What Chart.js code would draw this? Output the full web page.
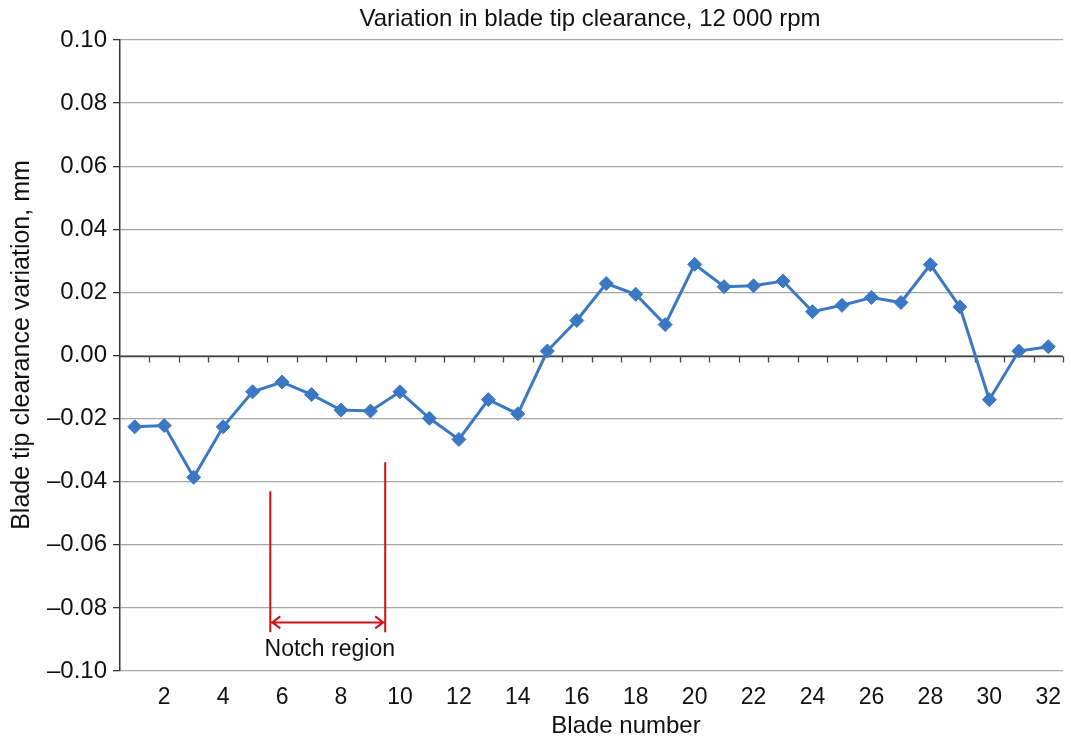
<!DOCTYPE html>
<html>
<head>
<meta charset="utf-8">
<script src="https://cdn.jsdelivr.net/npm/chart.js@4/dist/chart.umd.min.js"></script>
<style>
  html, body { margin: 0; padding: 0; background: #fff; overflow: hidden; }
  #graficoFolga { display: block; }
</style>
</head>
<body>
<canvas id="graficoFolga" width="1071" height="738"></canvas>
<script>
const blades = ['1','2','3','4','5','6','7','8','9','10','11','12','13','14','15','16',
                '17','18','19','20','21','22','23','24','25','26','27','28','29','30','31','32'];
const clearanceVar = [-0.0226, -0.0222, -0.0386, -0.0226, -0.0115, -0.0084, -0.0124, -0.0173,
                      -0.0176, -0.0115, -0.0199, -0.0266, -0.0140, -0.0185, 0.0014, 0.0111,
                      0.0228, 0.0194, 0.0098, 0.0289, 0.0218, 0.0221, 0.0236, 0.0139,
                      0.0159, 0.0184, 0.0168, 0.0288, 0.0154, -0.0140, 0.0014, 0.0028];
const yTicks = [-0.10, -0.08, -0.06, -0.04, -0.02, 0.00, 0.02, 0.04, 0.06, 0.08, 0.10];
// notch region marker, in blade index / mm units
const notchLeft = [4.6, -0.043, -0.0877];
const notchRight = [8.5, -0.0338, -0.0877];
const notchArrowY = -0.0846;

const fonte = "'Liberation Sans', Arial, sans-serif";

const extras = {
    id: 'extras',
    beforeDatasetsDraw(chart) {
        const ctx = chart.ctx;
        const x = chart.scales.x, y = chart.scales.y;
        const y0 = Math.round(y.getPixelForValue(0)) + 0.5;
        ctx.save();
        ctx.strokeStyle = '#444';
        ctx.lineWidth = 1.3;
        ctx.beginPath();
        ctx.moveTo(chart.chartArea.left, y0);
        ctx.lineTo(chart.chartArea.right, y0);
        for (let i = 1; i <= blades.length; i++) {
            const px = Math.round(x.getPixelForValue(i - 0.5)) + 0.5;
            ctx.moveTo(px, y0);
            ctx.lineTo(px, y0 + 6);
        }
        ctx.stroke();
        ctx.restore();
    },
    afterDraw(chart) {
        const ctx = chart.ctx;
        const x = chart.scales.x, y = chart.scales.y;
        ctx.save();
        // notch region
        ctx.strokeStyle = '#d0101a';
        ctx.lineWidth = 2;
        const xl = x.getPixelForValue(notchLeft[0]);
        const xr = x.getPixelForValue(notchRight[0]);
        ctx.beginPath();
        ctx.moveTo(xl, y.getPixelForValue(notchLeft[1]));
        ctx.lineTo(xl, y.getPixelForValue(notchLeft[2]));
        ctx.moveTo(xr, y.getPixelForValue(notchRight[1]));
        ctx.lineTo(xr, y.getPixelForValue(notchRight[2]));
        const ya = y.getPixelForValue(notchArrowY);
        ctx.moveTo(xl + 1, ya);
        ctx.lineTo(xr - 1, ya);
        ctx.moveTo(xl + 10, ya - 6); ctx.lineTo(xl + 2, ya); ctx.lineTo(xl + 10, ya + 6);
        ctx.moveTo(xr - 10, ya - 6); ctx.lineTo(xr - 2, ya); ctx.lineTo(xr - 10, ya + 6);
        ctx.stroke();

        ctx.fillStyle = '#111';
        ctx.textAlign = 'center';
        ctx.textBaseline = 'middle';
        ctx.font = '23px ' + fonte;
        ctx.fillText('Notch region', (xl + xr) / 2 + 2, ya + 27);

        ctx.font = '24px ' + fonte;
        ctx.fillText('Variation in blade tip clearance, 12 000 rpm', 590, 19);

        ctx.font = '24px ' + fonte;
        ctx.fillText('Blade number', 626, 726);

        ctx.font = '25px ' + fonte;
        ctx.translate(22, 345);
        ctx.rotate(-Math.PI / 2);
        ctx.fillText('Blade tip clearance variation, mm', 0, 0);
        ctx.restore();
    }
};

let graficoFolga = new Chart(
    document.getElementById('graficoFolga'), {
    type: 'line',
    data: {
        labels: blades,
        datasets: [{
            label: 'Clearance variation',
            data: clearanceVar,
            borderColor: '#3a78c4',
            backgroundColor: '#3a78c4',
            borderWidth: 3,
            pointStyle: 'rectRot',
            pointRadius: 7,
            pointBorderWidth: 1,
            tension: 0
        }]
    },
    options: {
        responsive: false,
        animation: false,
        devicePixelRatio: 1,
        layout: { padding: { left: 0, right: 0, top: 40, bottom: 0 } },
        plugins: {
            legend: { display: false },
            title: { display: false },
            tooltip: { enabled: false }
        },
        scales: {
            x: {
                offset: true,
                grid: { display: false, drawTicks: true, tickLength: 13 },
                border: { display: false },
                ticks: {
                    autoSkip: false,
                    maxRotation: 0,
                    padding: 0,
                    color: '#111',
                    font: { family: fonte, size: 23 },
                    callback: function (val, i) {
                        const b = blades[i];
                        return Number(b) % 2 === 0 ? b : '';
                    }
                },
                afterFit(scale) {
                    scale.height = 67;
                    scale.paddingLeft = 0;
                    scale.paddingRight = 0;
                }
            },
            y: {
                min: -0.10,
                max: 0.10,
                afterBuildTicks(scale) {
                    scale.ticks = yTicks.map(v => ({ value: v }));
                },
                grid: {
                    color: '#a6a6a6',
                    lineWidth: 1.3,
                    tickLength: 7,
                    tickColor: '#333'
                },
                border: { display: true, color: '#333', width: 1.5 },
                ticks: {
                    padding: 6,
                    color: '#111',
                    font: { family: fonte, size: 24 },
                    callback: function (v) {
                        const s = Math.abs(v).toFixed(2);
                        return v < -1e-9 ? '\u2013' + s : s;
                    }
                },
                afterFit(scale) { scale.width = 120; }
            }
        }
    },
    plugins: [extras]
}
)
</script>
</body>
</html>
